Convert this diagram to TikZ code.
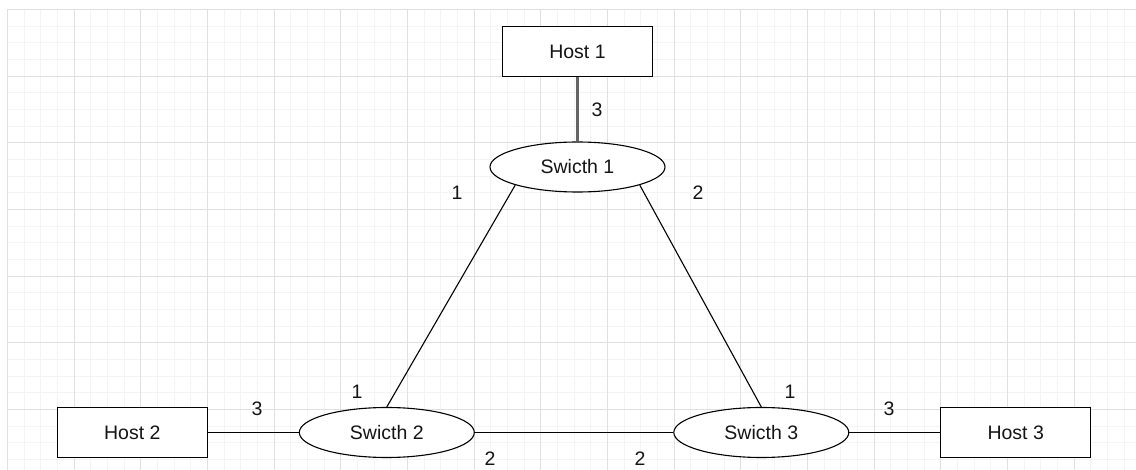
\documentclass[tikz,border=0pt]{standalone}
\usepackage{fontspec}
\setmainfont{Liberation Sans}
\usetikzlibrary{shapes.geometric}
\definecolor{gridminor}{RGB}{244,244,244}
\definecolor{gridmajor}{RGB}{224,224,224}
\definecolor{linkgray}{RGB}{100,100,100}
\definecolor{ink}{RGB}{20,20,20}
\tikzset{
  host/.style={draw=black, line width=1.3pt, fill=white, rectangle,
    minimum width=150pt, minimum height=50pt, inner sep=0pt,
    font=\fontsize{19.5}{23}\selectfont, text=ink},
  switch/.style={draw=black, line width=1.1pt, fill=white, ellipse,
    minimum width=175pt, minimum height=50pt, inner sep=0pt,
    font=\fontsize{19.5}{23}\selectfont, text=ink},
  link/.style={draw=black, line width=1.1pt},
  uplink/.style={draw=linkgray, line width=2.5pt},
  port/.style={font=\fontsize{19.5}{23}\selectfont, text=ink, inner sep=0pt},
  minorline/.style={draw=gridminor, line width=1pt},
  majorline/.style={draw=gridmajor, line width=1pt}
}
\begin{document}
\begin{tikzpicture}[x=1pt, y=-1pt]
  \useasboundingbox[fill=white] (0,0) rectangle (1136,470);
  % background grid: minor every 16.67, major every fourth line,
  % each line snapped to the middle of a whole unit
  \foreach \i in {0,...,67} {
    \pgfmathsetmacro{\gx}{round(7+\i*16.6667)+0.5}
    \draw[minorline] (\gx,9) -- (\gx,470);
  }
  \foreach \j in {0,...,27} {
    \pgfmathsetmacro{\gy}{round(9+\j*16.6667)+0.5}
    \draw[minorline] (7,\gy) -- (1136,\gy);
  }
  \foreach \i in {0,...,16} {
    \pgfmathsetmacro{\gx}{round(7+\i*66.6667)+0.5}
    \draw[majorline] (\gx,9) -- (\gx,470);
  }
  \foreach \j in {0,...,6} {
    \pgfmathsetmacro{\gy}{round(9+\j*66.6667)+0.5}
    \draw[majorline] (7,\gy) -- (1136,\gy);
  }

  % hosts and switches
  \node[host]   (h1) at (577.5,51.5)  {Host 1};
  \node[switch] (s1) at (577.5,167)   {Swicth 1};
  \node[host]   (h2) at (132.3,432.5) {Host 2};
  \node[switch] (s2) at (386.8,432.5) {Swicth 2};
  \node[switch] (s3) at (761.3,432.5) {Swicth 3};
  \node[host]   (h3) at (1015.7,432.5) {Host 3};

  % links
  \draw[uplink] (h1.south) -- (s1.north);
  \draw[link] (s1.south west) -- (s2.north);
  \draw[link] (s1.south east) -- (s3.north);
  \draw[link] (h2.east) -- (s2.west);
  \draw[link] (s2.east) -- (s3.west);
  \draw[link] (s3.east) -- (h3.west);

  % port numbers
  \node[port] (p13) at (597,110) {3};
  \node[port] (p11) at (457,193) {1};
  \node[port] (p12) at (698,193) {2};
  \node[port] (p23) at (257,409) {3};
  \node[port] (p21) at (357,392) {1};
  \node[port] (p22) at (490,459) {2};
  \node[port] (p32) at (640,459) {2};
  \node[port] (p31) at (790,392) {1};
  \node[port] (p33) at (889,409) {3};
\end{tikzpicture}
\end{document}
